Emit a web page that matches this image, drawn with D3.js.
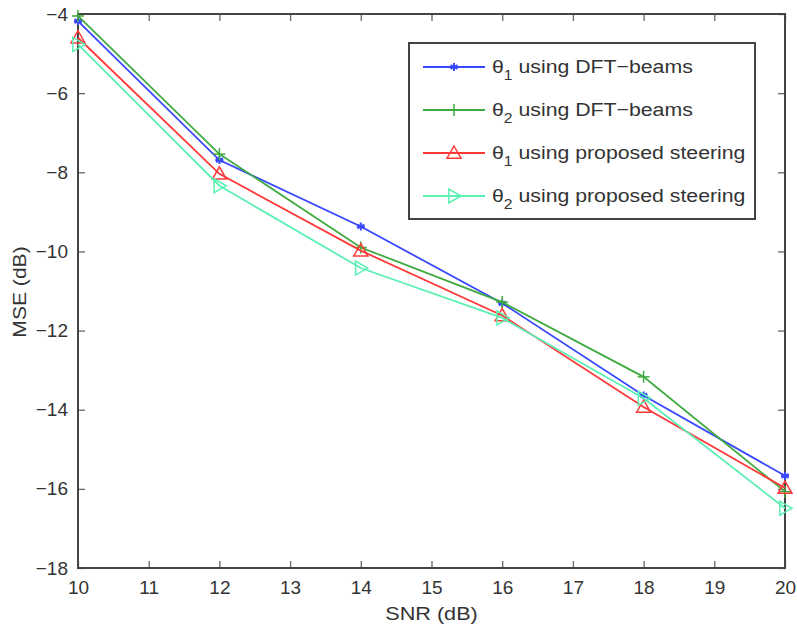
<!DOCTYPE html>
<html><head><meta charset="utf-8">
<script src="https://cdn.jsdelivr.net/npm/d3@7"></script>
<style>body{margin:0;background:#fff}svg{display:block}text{font-family:"Liberation Sans",Arial,Helvetica,sans-serif;fill:#333}</style>
</head><body><div id="chart"></div>
<script>
const snr = [10, 12, 14, 16, 18, 20];
const theta1DFT = [-4.18, -7.69, -9.37, -11.31, -13.64, -15.67];
const theta2DFT = [-4.05, -7.54, -9.90, -11.28, -13.17, -16.07];
const theta1Prop = [-4.60, -8.04, -9.98, -11.62, -13.93, -15.98];
const theta2Prop = [-4.77, -8.34, -10.42, -11.68, -13.71, -16.49];
const xTicks = [10, 11, 12, 13, 14, 15, 16, 17, 18, 19, 20];
const yTicks = [-4, -6, -8, -10, -12, -14, -16, -18];
const seriesNames = ["using DFT\u2212beams", "using DFT\u2212beams", "using proposed steering", "using proposed steering"];
const seriesSubs = ["1", "2", "1", "2"];

const W = 797, H = 628;
const m = {l: 78, t: 14, r: 12, b: 60};
const svg = d3.select("#chart").append("svg").attr("width", W).attr("height", H);
const x = d3.scaleLinear().domain([10, 20]).range([m.l, W - m.r]);
const y = d3.scaleLinear().domain([-18, -4]).range([H - m.b, m.t]);

const series = [
  {v: theta1DFT, color: "#3848ff", marker: "star"},
  {v: theta2DFT, color: "#3faa3f", marker: "plus"},
  {v: theta1Prop, color: "#ff3838", marker: "tri"},
  {v: theta2Prop, color: "#5cf0b4", marker: "right"}
];

const tl = 7;
const axB = d3.axisBottom(x).tickValues(xTicks).tickSize(-tl).tickPadding(tl + 6).tickFormat(d3.format("d"));
const axT = d3.axisTop(x).tickValues(xTicks).tickSize(-tl).tickFormat("");
const axL = d3.axisLeft(y).tickValues(yTicks).tickSize(-tl).tickPadding(tl + 3).tickFormat(d => d3.format("d")(d).replace("-", "\u2212"));
const axR = d3.axisRight(y).tickValues(yTicks).tickSize(-tl).tickFormat("");
function style(g){ g.select(".domain").remove(); g.selectAll(".tick line").attr("stroke","#666").attr("stroke-width",1.3); g.selectAll("text").style("font-size","19px").attr("fill","#333"); }
svg.append("g").attr("transform",`translate(0,${H-m.b})`).call(axB).call(style);
svg.append("g").attr("transform",`translate(0,${m.t})`).call(axT).call(style);
svg.append("g").attr("transform",`translate(${m.l},0)`).call(axL).call(style);
svg.append("g").attr("transform",`translate(${W-m.r},0)`).call(axR).call(style);
svg.append("rect").attr("x",m.l).attr("y",m.t).attr("width",W-m.l-m.r).attr("height",H-m.t-m.b)
  .attr("fill","none").attr("stroke","#444").attr("stroke-width",2);

svg.append("text").attr("transform",`translate(${x(15)},620) scale(1.14,1)`).attr("text-anchor","middle").style("font-size","19px").text("SNR (dB)");
svg.append("text").attr("transform",`translate(26,292) rotate(-90) scale(1.11,1)`).attr("text-anchor","middle").style("font-size","19px").text("MSE (dB)");

function drawMarker(g, type, color, cx, cy){
  if(type==="star"){
    const r=4;
    for(const a of [0,60,120]){
      const t=a*Math.PI/180;
      g.append("line").attr("x1",cx-r*Math.sin(t)).attr("y1",cy-r*Math.cos(t)).attr("x2",cx+r*Math.sin(t)).attr("y2",cy+r*Math.cos(t)).attr("stroke",color).attr("stroke-width",2);
    }
    g.append("line").attr("x1",cx-r).attr("x2",cx+r).attr("y1",cy).attr("y2",cy).attr("stroke",color).attr("stroke-width",2);
  } else if(type==="plus"){
    const r=6;
    g.append("line").attr("x1",cx-r).attr("x2",cx+r).attr("y1",cy).attr("y2",cy).attr("stroke",color).attr("stroke-width",1.5);
    g.append("line").attr("x1",cx).attr("x2",cx).attr("y1",cy-r).attr("y2",cy+r).attr("stroke",color).attr("stroke-width",1.5);
  } else if(type==="tri"){
    const r=7;
    g.append("path").attr("d",`M${cx},${cy-r}L${cx+r},${cy+r*0.75}L${cx-r},${cy+r*0.75}Z`).attr("fill","none").attr("stroke",color).attr("stroke-width",1.5);
  } else if(type==="right"){
    const r=7;
    g.append("path").attr("d",`M${cx+r},${cy}L${cx-r*0.75},${cy-r}L${cx-r*0.75},${cy+r}Z`).attr("fill","none").attr("stroke",color).attr("stroke-width",1.5);
  }
}

const line = d3.line().x((d,i)=>x(snr[i])).y(d=>y(d));
series.forEach(s=>{
  const g = svg.append("g");
  g.append("path").datum(s.v).attr("d",line).attr("fill","none").attr("stroke",s.color).attr("stroke-width",1.8);
  s.v.forEach((v,i)=>drawMarker(g,s.marker,s.color,x(snr[i]),y(v)));
});

const lg = svg.append("g");
lg.append("rect").attr("x",409).attr("y",43).attr("width",346).attr("height",176).attr("fill","#fff").attr("stroke","#444").attr("stroke-width",2);
series.forEach((s,i)=>{
  const ly = 67 + i*43;
  lg.append("line").attr("x1",423).attr("x2",485).attr("y1",ly).attr("y2",ly).attr("stroke",s.color).attr("stroke-width",1.8);
  drawMarker(lg,s.marker,s.color,454,ly);
  const t = lg.append("text").attr("transform",`translate(492,${ly+6}) scale(1.12,1)`).style("font-size","19px");
  t.append("tspan").text("\u03b8");
  t.append("tspan").attr("dy",7).style("font-size","14px").text(seriesSubs[i]);
  t.append("tspan").attr("dy",-7).text(" " + seriesNames[i]);
});
</script></body></html>
